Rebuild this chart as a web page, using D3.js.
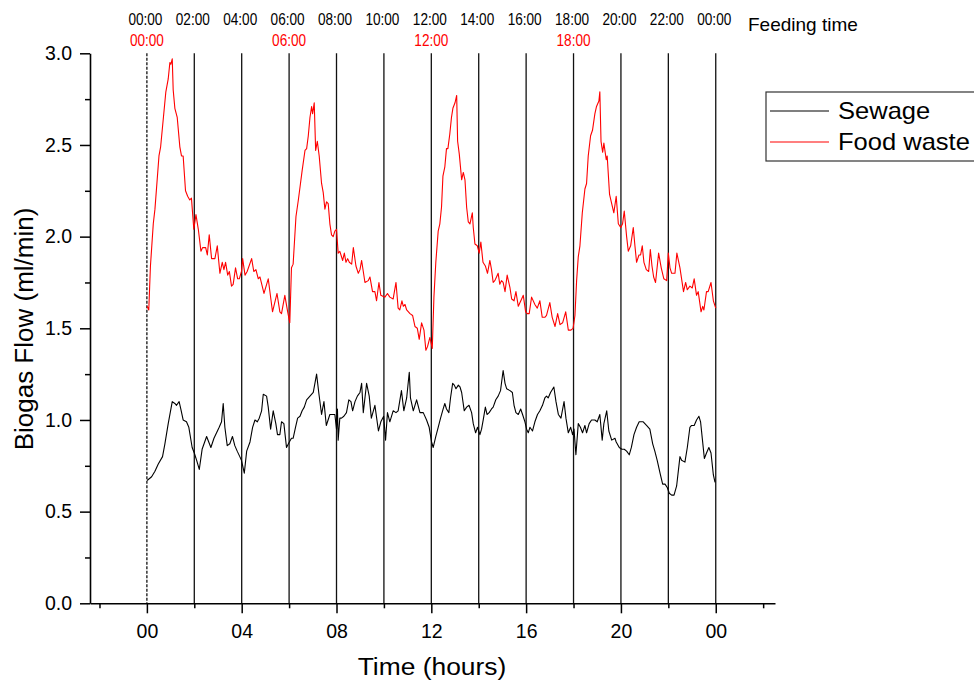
<!DOCTYPE html>
<html>
<head>
<meta charset="utf-8">
<script src="https://cdn.jsdelivr.net/npm/d3@7"></script>
<style>
  body { margin: 0; background: #fff; }
  svg text { font-family: "Liberation Sans", Arial, sans-serif; fill: #000; }
</style>
</head>
<body>
<div id="chart"></div>
<script>
// values (hours, ml/min)
const sewageHours = [0.01,0.20,0.34,0.48,0.66,0.76,0.90,1.07,1.18,1.25,1.36,1.43,1.53,1.67,1.77,1.91,2.00,2.10,2.21,2.33,2.52,2.70,2.83,2.94,3.05,3.15,3.22,3.29,3.39,3.50,3.61,3.71,3.81,3.92,3.99,4.11,4.21,4.35,4.46,4.56,4.66,4.74,4.84,4.91,5.05,5.12,5.22,5.33,5.44,5.51,5.61,5.68,5.78,5.89,6.01,6.10,6.17,6.27,6.36,6.46,6.55,6.64,6.74,6.88,7.02,7.16,7.26,7.37,7.47,7.57,7.72,7.83,7.93,8.00,8.04,8.07,8.14,8.21,8.31,8.42,8.52,8.61,8.68,8.78,8.88,8.99,9.06,9.13,9.27,9.38,9.47,9.62,9.77,9.87,9.99,10.07,10.15,10.25,10.39,10.51,10.60,10.74,10.84,10.96,11.07,11.12,11.24,11.38,11.52,11.66,11.80,11.91,12.01,12.08,12.19,12.29,12.39,12.50,12.57,12.64,12.74,12.81,12.90,12.97,13.04,13.14,13.21,13.28,13.39,13.49,13.59,13.70,13.77,13.87,13.95,14.05,14.12,14.19,14.28,14.35,14.44,14.54,14.61,14.72,14.82,14.92,14.96,15.03,15.11,15.18,15.32,15.42,15.49,15.57,15.67,15.77,15.85,15.95,16.02,16.09,16.16,16.27,16.37,16.48,16.58,16.69,16.79,16.86,16.93,17.03,17.17,17.26,17.36,17.47,17.60,17.68,17.78,17.88,17.96,18.02,18.10,18.20,18.29,18.38,18.48,18.55,18.66,18.76,18.90,19.00,19.11,19.21,19.28,19.40,19.49,19.61,19.75,19.80,19.93,20.04,20.14,20.24,20.35,20.44,20.55,20.66,20.77,20.94,21.08,21.22,21.34,21.43,21.53,21.65,21.76,21.86,21.96,22.04,22.14,22.24,22.35,22.49,22.56,22.70,22.80,22.91,22.98,23.09,23.19,23.29,23.36,23.44,23.52,23.61,23.71,23.80,23.90,23.97];
const sewageFlow = [0.67,0.69,0.72,0.76,0.80,0.87,0.98,1.10,1.09,1.08,1.10,1.06,1.00,0.99,0.96,0.85,0.82,0.78,0.73,0.84,0.91,0.85,0.90,0.93,0.96,0.99,1.09,0.96,0.86,0.87,0.91,0.86,0.83,0.80,0.78,0.71,0.83,0.88,0.96,1.00,0.99,1.01,1.05,1.14,1.13,1.07,0.95,1.05,0.98,0.92,0.92,0.99,0.98,0.85,0.88,0.90,0.90,0.96,1.01,1.02,1.05,1.07,1.11,1.13,1.15,1.25,1.14,1.03,1.10,0.97,1.03,1.03,1.03,0.95,1.06,0.89,1.01,1.01,1.02,1.04,1.11,1.10,1.05,1.10,1.13,1.15,1.20,1.04,1.20,1.13,1.01,1.08,0.94,0.99,1.02,0.89,1.04,0.99,1.05,1.04,1.05,1.16,1.05,1.12,1.26,1.12,1.05,1.11,1.04,1.04,1.00,0.96,0.88,0.85,0.91,0.96,1.01,1.06,1.09,1.06,1.04,1.12,1.20,1.19,1.17,1.19,1.18,1.15,1.05,1.07,1.08,1.04,0.98,0.93,0.96,0.92,0.95,1.00,1.07,1.03,1.04,1.06,1.07,1.11,1.13,1.16,1.20,1.27,1.20,1.17,1.16,1.15,1.08,1.04,1.03,1.06,1.03,0.99,0.95,0.93,0.96,0.94,0.99,1.03,1.05,1.08,1.12,1.13,1.12,1.15,1.18,1.10,1.03,1.01,1.10,1.01,0.93,0.96,0.92,0.95,0.81,0.98,0.96,0.93,0.97,0.93,0.98,1.00,1.00,0.99,1.03,0.89,0.98,1.05,0.94,0.89,0.90,0.88,0.85,0.84,0.84,0.83,0.81,0.85,0.92,0.96,0.99,0.99,0.97,0.95,0.87,0.83,0.78,0.71,0.65,0.65,0.63,0.60,0.59,0.59,0.64,0.80,0.78,0.77,0.85,0.96,0.97,0.97,1.00,1.02,0.99,0.89,0.79,0.82,0.85,0.82,0.70,0.66];

const foodHours = [0.01,0.08,0.15,0.27,0.34,0.51,0.58,0.69,0.80,0.90,0.97,1.01,1.07,1.11,1.18,1.28,1.39,1.46,1.53,1.63,1.72,1.81,1.88,1.98,2.07,2.17,2.28,2.35,2.48,2.55,2.63,2.73,2.87,2.97,3.08,3.18,3.25,3.32,3.41,3.48,3.57,3.64,3.74,3.83,3.90,3.99,4.04,4.14,4.23,4.42,4.51,4.60,4.70,4.77,4.94,5.12,5.30,5.49,5.61,5.68,5.82,5.94,6.03,6.10,6.17,6.29,6.39,6.48,6.55,6.67,6.74,6.81,6.88,6.95,6.99,7.06,7.12,7.19,7.27,7.37,7.44,7.51,7.58,7.65,7.72,7.79,7.86,7.93,8.00,8.07,8.14,8.26,8.33,8.40,8.47,8.54,8.64,8.71,8.82,8.92,8.99,9.06,9.13,9.20,9.34,9.41,9.52,9.62,9.69,9.79,9.87,10.04,10.15,10.25,10.39,10.51,10.60,10.67,10.76,10.82,10.89,10.96,11.10,11.21,11.31,11.41,11.49,11.59,11.69,11.77,11.84,11.94,12.04,12.11,12.19,12.29,12.36,12.43,12.49,12.57,12.64,12.70,12.78,12.85,12.91,13.00,13.07,13.11,13.18,13.28,13.35,13.42,13.49,13.56,13.63,13.73,13.77,13.84,13.94,14.02,14.09,14.18,14.28,14.37,14.47,14.54,14.61,14.68,14.75,14.82,14.89,14.96,15.03,15.11,15.20,15.32,15.39,15.49,15.57,15.67,15.81,15.88,15.98,16.05,16.13,16.23,16.37,16.47,16.58,16.68,16.79,16.86,17.00,17.10,17.22,17.33,17.43,17.54,17.67,17.78,17.89,17.98,18.06,18.13,18.20,18.27,18.37,18.48,18.55,18.62,18.72,18.80,18.90,18.97,19.07,19.11,19.16,19.23,19.28,19.38,19.42,19.52,19.61,19.70,19.80,19.89,19.99,20.07,20.14,20.24,20.31,20.41,20.52,20.59,20.66,20.76,20.83,20.90,20.97,21.07,21.17,21.24,21.31,21.38,21.46,21.59,21.70,21.81,21.93,22.00,22.07,22.14,22.28,22.36,22.49,22.64,22.73,22.80,22.91,23.01,23.09,23.19,23.26,23.38,23.45,23.50,23.61,23.68,23.80,23.90,24.00];
const foodFlow = [1.62,1.60,1.84,2.07,2.15,2.44,2.49,2.64,2.79,2.86,2.95,2.94,2.97,2.80,2.70,2.65,2.49,2.44,2.44,2.25,2.22,2.20,2.21,2.04,2.12,2.04,1.92,1.94,1.94,1.90,2.01,1.88,1.88,1.95,1.80,1.86,1.82,1.86,1.79,1.81,1.73,1.74,1.83,1.77,1.77,1.81,1.88,1.79,1.81,1.88,1.81,1.82,1.77,1.78,1.69,1.77,1.59,1.69,1.59,1.58,1.68,1.59,1.53,1.83,1.85,2.11,2.20,2.29,2.36,2.47,2.48,2.55,2.65,2.71,2.67,2.73,2.47,2.52,2.44,2.29,2.24,2.15,2.19,2.18,2.07,2.01,2.00,2.03,2.04,1.91,1.92,1.87,1.91,1.86,1.88,1.86,1.85,1.94,1.84,1.80,1.82,1.87,1.81,1.75,1.76,1.78,1.70,1.70,1.65,1.75,1.68,1.67,1.69,1.67,1.66,1.75,1.61,1.60,1.65,1.62,1.63,1.60,1.58,1.57,1.51,1.50,1.44,1.53,1.49,1.38,1.40,1.45,1.39,1.67,1.86,2.03,2.07,2.16,2.33,2.38,2.48,2.48,2.56,2.65,2.70,2.73,2.77,2.52,2.45,2.31,2.35,2.31,2.16,2.08,2.07,2.13,2.05,1.96,1.95,1.91,1.97,1.86,1.84,1.80,1.87,1.82,1.75,1.76,1.78,1.80,1.74,1.76,1.75,1.70,1.79,1.72,1.66,1.65,1.70,1.62,1.66,1.68,1.59,1.58,1.58,1.67,1.63,1.61,1.65,1.56,1.56,1.57,1.64,1.56,1.51,1.58,1.52,1.53,1.59,1.49,1.49,1.50,1.57,1.76,1.89,1.95,2.13,2.26,2.29,2.44,2.55,2.58,2.67,2.71,2.74,2.79,2.52,2.46,2.51,2.42,2.44,2.23,2.18,2.13,2.22,2.07,2.05,2.07,2.14,2.00,1.92,1.95,2.05,1.95,1.86,1.90,1.90,1.95,1.86,1.82,1.81,1.93,1.84,1.78,1.75,1.91,1.83,1.77,1.76,1.91,1.83,1.80,1.80,1.91,1.83,1.70,1.75,1.71,1.73,1.72,1.77,1.68,1.70,1.59,1.62,1.60,1.70,1.70,1.75,1.65,1.61];

const hourTicks = [0, 4, 8, 12, 16, 20, 24];
const hourTickLabels = ["00", "04", "08", "12", "16", "20", "00"];
const hourMinorTicks = [-2, 2, 6, 10, 14, 18, 22, 26];
const flowTicks = [0, 0.5, 1.0, 1.5, 2.0, 2.5, 3.0];
const flowMinorTicks = [0.25, 0.75, 1.25, 1.75, 2.25, 2.75];
const clockTimes = [0, 2, 4, 6, 8, 10, 12, 14, 16, 18, 20, 22, 24];
const clockLabels = ["00:00","02:00","04:00","06:00","08:00","10:00","12:00","14:00","16:00","18:00","20:00","22:00","00:00"];
const feedTimes = [0, 6, 12, 18];
const feedLabels = ["00:00", "06:00", "12:00", "18:00"];
const seriesNames = ["Sewage", "Food waste"];
const seriesColors = ["#000000", "#ff0000"];

(function(){
    const width = 974, height = 682;
    const svg = d3.select("#chart").append("svg")
        .attr("width", width)
        .attr("height", height);
    svg.append("rect").attr("width", width).attr("height", height).attr("fill", "#fff");

    const x = d3.scaleLinear().domain([-2.4, 26.5]).range([90, 775]);
    const y = d3.scaleLinear().domain([0, 3]).range([603.3, 53.3]);

    // vertical time markers every two hours (the first one dashed)
    svg.selectAll(".clock-line")
        .data(clockTimes)
        .join("line")
        .attr("class", "clock-line")
        .attr("x1", d => x(d)).attr("x2", d => x(d))
        .attr("y1", y(3)).attr("y2", y(0))
        .attr("stroke", "#111")
        .attr("stroke-width", 1.3)
        .attr("stroke-dasharray", (d, i) => i === 0 ? "3,1.5" : null);

    // series
    const line = d3.line().x(d => x(d[0])).y(d => y(d[1]));
    const series = [d3.zip(sewageHours, sewageFlow), d3.zip(foodHours, foodFlow)];
    svg.selectAll(".series")
        .data(series)
        .join("path")
        .attr("class", "series")
        .attr("fill", "none")
        .attr("stroke", (d, i) => seriesColors[i])
        .attr("stroke-width", 1.1)
        .attr("stroke-linejoin", "round")
        .attr("d", line);

    // axes
    const xAxis = svg.append("g").attr("transform", `translate(0,${y(0)})`)
        .call(d3.axisBottom(x).tickValues(hourTicks)
            .tickFormat((d, i) => hourTickLabels[i])
            .tickSize(10).tickSizeOuter(0).tickPadding(11));
    svg.append("g").attr("transform", `translate(0,${y(0)})`)
        .call(d3.axisBottom(x).tickValues(hourMinorTicks).tickFormat("").tickSize(5))
        .call(g => g.select(".domain").remove());

    const yAxis = svg.append("g").attr("transform", `translate(${x(-2.4)},0)`)
        .call(d3.axisLeft(y).tickValues(flowTicks)
            .tickFormat(d3.format(".1f"))
            .tickSize(10).tickSizeOuter(0).tickPadding(8));
    svg.append("g").attr("transform", `translate(${x(-2.4)},0)`)
        .call(d3.axisLeft(y).tickValues(flowMinorTicks).tickFormat("").tickSize(5))
        .call(g => g.select(".domain").remove());

    svg.selectAll(".domain").attr("stroke", "#000").attr("stroke-width", 1.6);
    svg.selectAll(".tick line").attr("stroke", "#000").attr("stroke-width", 1.5);
    svg.selectAll(".tick text").attr("font-size", 19.5).attr("fill", "#000")
        .style("font-family", "'Liberation Sans', Arial, sans-serif");

    // axis titles
    svg.append("g").attr("transform", "translate(432,675) scale(1.1,1)")
        .append("text").attr("text-anchor", "middle").attr("font-size", 24)
        .text("Time (hours)");
    svg.append("g").attr("transform", "translate(33,329) rotate(-90)")
        .append("text").attr("text-anchor", "middle").attr("font-size", 26)
        .text("Biogas Flow (ml/min)");

    // clock labels above the plot
    svg.selectAll(".clock-label")
        .data(clockTimes)
        .join("g")
        .attr("class", "clock-label")
        .attr("transform", d => `translate(${x(d) - 1.5},25) scale(0.85,1)`)
        .append("text")
        .attr("text-anchor", "middle")
        .attr("font-size", 16)
        .text((d, i) => clockLabels[i]);

    svg.selectAll(".feed-label")
        .data(feedTimes)
        .join("g")
        .attr("class", "feed-label")
        .attr("transform", d => `translate(${x(d)},46) scale(0.85,1)`)
        .append("text")
        .attr("text-anchor", "middle")
        .attr("font-size", 16)
        .style("fill", "#ff0000")
        .text((d, i) => feedLabels[i]);

    svg.append("text").attr("x", 748).attr("y", 31).attr("font-size", 19)
        .text("Feeding time");

    // legend
    const legend = svg.append("g");
    legend.append("rect")
        .attr("x", 766).attr("y", 92).attr("width", 230).attr("height", 69)
        .attr("fill", "#fff").attr("stroke", "#333").attr("stroke-width", 1.2);
    const item = legend.selectAll(".item")
        .data(seriesNames)
        .join("g")
        .attr("class", "item")
        .attr("transform", (d, i) => `translate(0,${111 + i * 31})`);
    item.append("line")
        .attr("x1", 770).attr("x2", 829)
        .attr("stroke", (d, i) => seriesColors[i]).attr("stroke-width", 1.2);
    item.append("g").attr("transform", "translate(838,8) scale(1.11,1)")
        .append("text").attr("font-size", 23).text(d => d);
})();
</script>
</body>
</html>
